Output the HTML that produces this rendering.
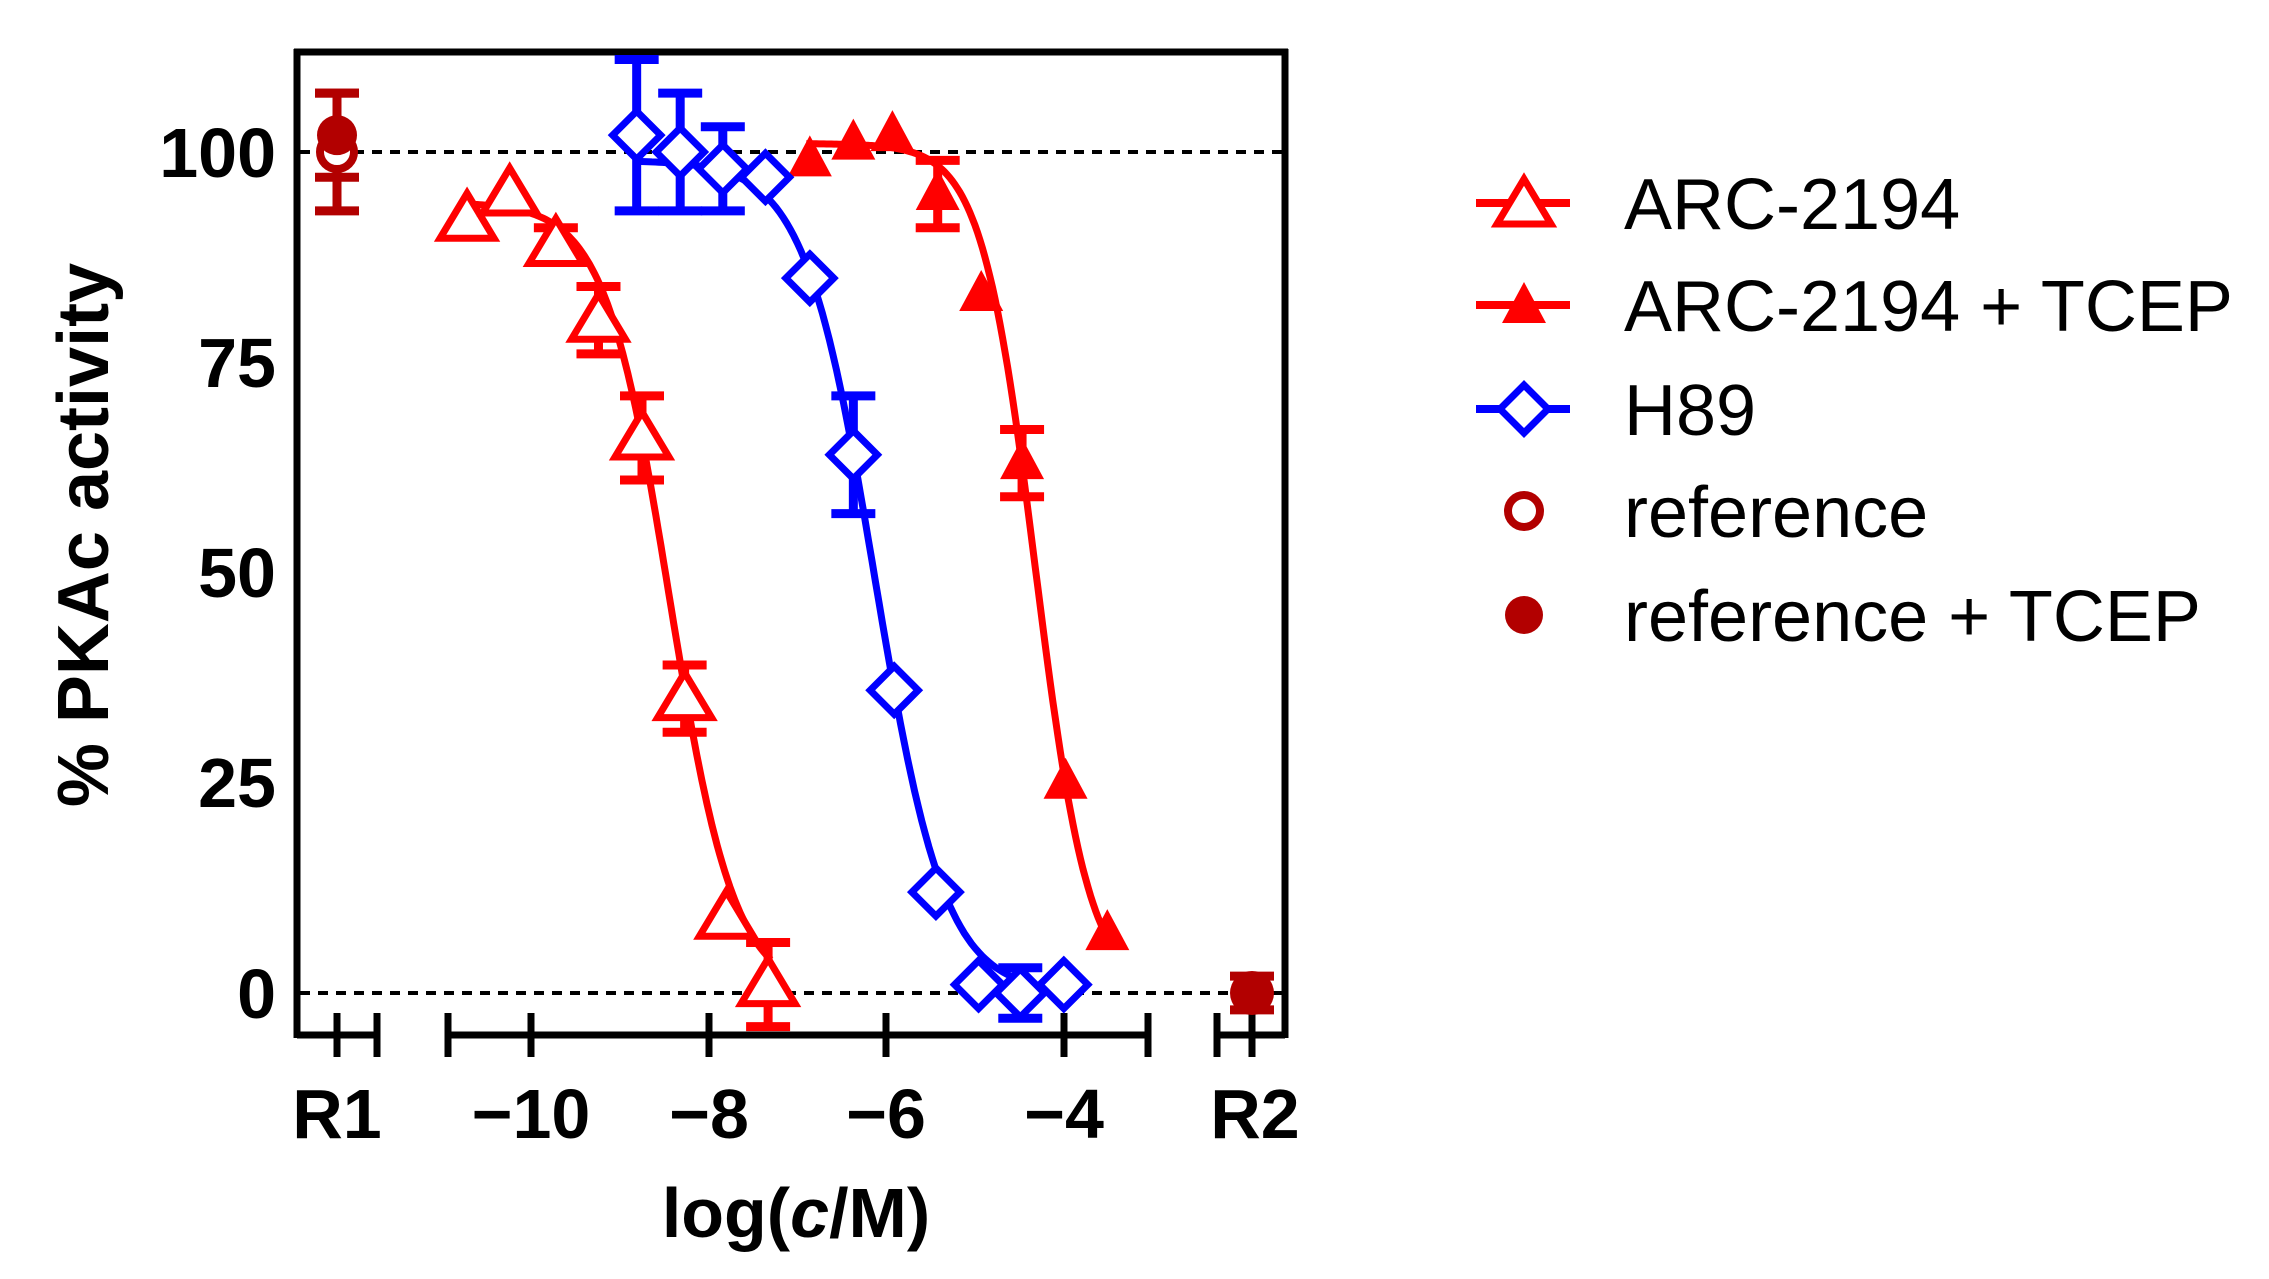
<!DOCTYPE html>
<html><head><meta charset="utf-8"><style>
html,body{margin:0;padding:0;background:#fff;}
svg{display:block;}
text{font-family:"Liberation Sans",Arial,sans-serif;}
</style></head><body>
<svg id="s" width="2269" height="1279" viewBox="0 0 2269 1279" xmlns="http://www.w3.org/2000/svg">
<g font-weight="bold" font-size="70" fill="#000">
<text x="276" y="177" text-anchor="end">100</text>
<text x="276" y="387" text-anchor="end">75</text>
<text x="276" y="597" text-anchor="end">50</text>
<text x="276" y="807" text-anchor="end">25</text>
<text x="276" y="1018" text-anchor="end">0</text>
<text x="337" y="1138" text-anchor="middle">R1</text>
<text x="531" y="1138" text-anchor="middle">−10</text>
<text x="709" y="1138" text-anchor="middle">−8</text>
<text x="886" y="1138" text-anchor="middle">−6</text>
<text x="1064" y="1138" text-anchor="middle">−4</text>
<text x="1255" y="1138" text-anchor="middle">R2</text>
<text x="796" y="1237" text-anchor="middle">log(<tspan font-style="italic">c</tspan>/M)</text>
<text transform="translate(108,535) rotate(-90)" text-anchor="middle" font-size="72">% PKAc activity</text>
</g>
<g stroke="#000" stroke-width="7" fill="none">
<line x1="294" y1="52" x2="1288" y2="52"/>
<line x1="297" y1="49" x2="297" y2="1038"/>
<line x1="1285" y1="49" x2="1285" y2="1038"/>
<line x1="297" y1="1035" x2="377" y2="1035"/>
<line x1="337" y1="1013" x2="337" y2="1057"/>
<line x1="377" y1="1013" x2="377" y2="1057"/>
<line x1="448" y1="1035" x2="1148" y2="1035"/>
<line x1="448" y1="1013" x2="448" y2="1057"/>
<line x1="531" y1="1013" x2="531" y2="1057"/>
<line x1="709" y1="1013" x2="709" y2="1057"/>
<line x1="886" y1="1013" x2="886" y2="1057"/>
<line x1="1064" y1="1013" x2="1064" y2="1057"/>
<line x1="1148" y1="1013" x2="1148" y2="1057"/>
<line x1="1217" y1="1035" x2="1285" y2="1035"/>
<line x1="1217" y1="1013" x2="1217" y2="1057"/>
<line x1="1252" y1="1013" x2="1252" y2="1057"/>
</g>
<g stroke="#000" stroke-width="4" stroke-dasharray="10,8">
<line x1="300" y1="152" x2="1282" y2="152"/>
<line x1="300" y1="993" x2="1282" y2="993"/>
</g>
<g id="data"></g>
<g font-size="72" fill="#000">
<text x="1624" y="229">ARC-2194</text>
<text x="1624" y="331">ARC-2194 + TCEP</text>
<text x="1624" y="435">H89</text>
<text x="1624" y="537">reference</text>
<text x="1624" y="641">reference + TCEP</text>
</g>
</svg>
<script>
var X=function(v){return 531+(v+10)*88.8;}, Y=function(p){return 993-p*8.41;};
var h='';
function curve(top,bot,ic,hs,x0,x1,col){var d='';for(var i=0;i<=120;i++){var x=x0+(x1-x0)*i/120;var y=bot+(top-bot)/(1+Math.pow(10,(x-ic)*hs));d+=(i?'L':'M')+X(x).toFixed(1)+','+Y(y).toFixed(1);}h+='<path d="'+d+'" fill="none" stroke="'+col+'" stroke-width="7"/>';}
function err(cx,p,e,col){if(!e)return;var y1=Y(p-e),y2=Y(p+e);h+='<g stroke="'+col+'" stroke-width="9"><line x1="'+cx+'" y1="'+y1+'" x2="'+cx+'" y2="'+y2+'"/><line x1="'+(cx-22)+'" y1="'+y1+'" x2="'+(cx+22)+'" y2="'+y1+'"/><line x1="'+(cx-22)+'" y1="'+y2+'" x2="'+(cx+22)+'" y2="'+y2+'"/></g>';}
function tri(cx,cy,fill,col){h+='<polygon points="'+cx+','+(cy-26)+' '+(cx+27)+','+(cy+19)+' '+(cx-27)+','+(cy+19)+'" fill="'+fill+'" stroke="'+col+'" stroke-width="7" stroke-linejoin="miter"/>';}
function ftri(cx,cy,col){h+='<polygon points="'+cx+','+(cy-25)+' '+(cx+22)+','+(cy+16)+' '+(cx-22)+','+(cy+16)+'" fill="'+col+'"/>';}
function dia(cx,cy){h+='<polygon points="'+cx+','+(cy-24)+' '+(cx+24)+','+cy+' '+cx+','+(cy+24)+' '+(cx-24)+','+cy+'" fill="#fff" stroke="#0000ff" stroke-width="7"/>';}
var R='#ff0000',B='#0000ff',D='#b20000';
curve(94,0,-8.44,1.19,-10.75,-7.3,R);
curve(101,0,-4.32,1.43,-6.9,-3.5,R);
curve(99,0,-6.13,1.1,-8.8,-4.0,B);
var a=[[-10.72,92,0],[-10.24,95,0],[-9.72,89,2],[-9.24,80,4],[-8.75,66,5],[-8.27,35,4],[-7.8,9,0],[-7.33,1,5]];
a.forEach(function(p){err(X(p[0]),p[1],p[2],R);});
a.forEach(function(p){tri(X(p[0]),Y(p[1]),'#fff',R);});
var b=[[-6.86,99,0],[-6.37,101,0],[-5.93,102,0],[-5.42,95,4],[-4.93,83,0],[-4.47,63,4],[-3.98,25,0],[-3.51,7,0]];
b.forEach(function(p){err(X(p[0]),p[1],p[2],R);});
b.forEach(function(p){ftri(X(p[0]),Y(p[1]),R);});
var c=[[-8.81,102,9],[-8.32,100,7],[-7.84,98,5],[-7.36,97,0],[-6.86,85,0],[-6.37,64,7],[-5.91,36,0],[-5.44,12,0],[-4.96,1,0],[-4.49,0,3],[-4.0,1,0]];
c.forEach(function(p){err(X(p[0]),p[1],p[2],B);});
c.forEach(function(p){dia(X(p[0]),Y(p[1]));});
err(337,100,7,D);err(337,102,5,D);
h+='<circle cx="337" cy="'+Y(100)+'" r="17" fill="#fff" stroke="'+D+'" stroke-width="8"/>';
h+='<circle cx="337" cy="'+Y(102)+'" r="20" fill="'+D+'"/>';
err(1252,0,2,D);
h+='<circle cx="1252" cy="'+Y(0)+'" r="22" fill="'+D+'"/>';
h+='<line x1="1476" y1="203" x2="1570" y2="203" stroke="'+R+'" stroke-width="8"/>';tri(1524,205,'#fff',R);
h+='<line x1="1476" y1="305" x2="1570" y2="305" stroke="'+R+'" stroke-width="8"/>';ftri(1524,307,R);
h+='<line x1="1476" y1="409" x2="1570" y2="409" stroke="'+B+'" stroke-width="8"/>';dia(1524,409);
h+='<circle cx="1524" cy="511" r="16" fill="#fff" stroke="'+D+'" stroke-width="8"/>';
h+='<circle cx="1524" cy="615" r="19" fill="'+D+'"/>';
document.getElementById('data').innerHTML=h;
</script>
</body></html>
